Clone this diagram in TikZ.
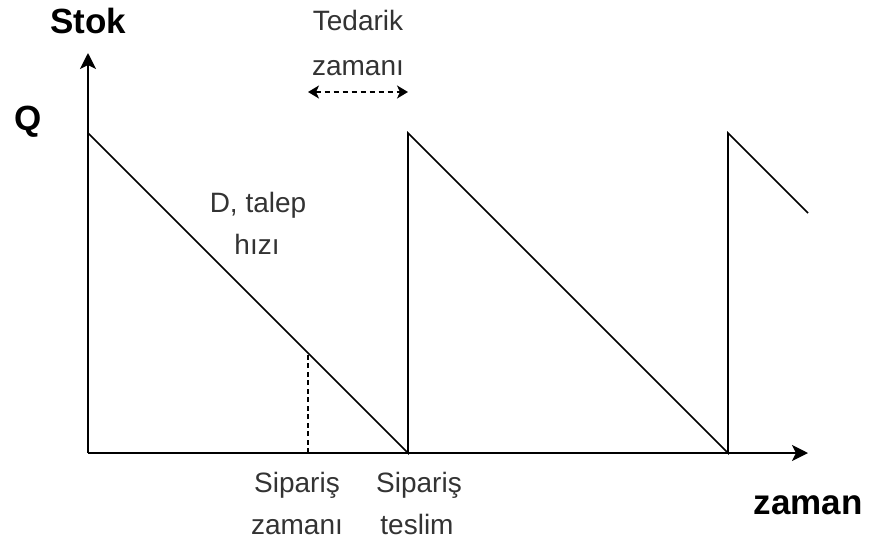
\documentclass[tikz,border=0pt]{standalone}
\usepackage{fontspec}
\setmainfont{Liberation Sans}
\usetikzlibrary{arrows.meta}
\definecolor{txt}{HTML}{333333}
\begin{document}
\begin{tikzpicture}[x=1pt,y=-1pt,line width=1.6pt,
  lbl/.style={anchor=base,font=\fontsize{28}{28}\selectfont,text=txt,inner sep=0pt},
  boldlbl/.style={anchor=base,font=\fontsize{35}{35}\selectfont\bfseries,inner sep=0pt},
  axisline/.style={-{Stealth[length=16pt,width=16pt,inset=4pt]}},
  leadarrow/.style={{Stealth[length=11pt,width=13pt,inset=3pt]}-{Stealth[length=11pt,width=13pt,inset=3pt]},dash pattern=on 5pt off 4pt},
  guide/.style={dash pattern=on 5pt off 3.5pt,line width=1.3pt}]
\useasboundingbox (0,0) rectangle (870,547);
\coordinate (O) at (88,453);
\coordinate (ytip) at (88,53);
\coordinate (xtip) at (808,453);
\coordinate (Q1) at (88,133);
\coordinate (Z1) at (408,453);
\coordinate (Q2) at (408,133);
\coordinate (Z2) at (728,453);
\coordinate (Q3) at (728,133);
\coordinate (E) at (808,213);
\coordinate (R) at (308,353);
\coordinate (Rb) at (308,453);
\coordinate (La) at (308,92);
\coordinate (Lb) at (408,92);
\draw[axisline] (O) -- (ytip);
\draw[axisline] (O) -- (xtip);
\draw[line join=miter] (Q1) -- (Z1) -- (Q2) -- (Z2) -- (Q3) -- (E);
\draw[guide] (Rb) -- (R);
\draw[leadarrow] (La) -- (Lb);
\node[boldlbl] (stok) at (88,33) {Stok};
\node[boldlbl] (q) at (28,130) {Q};
\node[boldlbl] (zaman) at (808,514) {zaman};
\node[lbl] (ted1) at (358,30) {Tedarik};
\node[lbl] (ted2) at (358,75) {zamanı};
\node[lbl] (d1) at (258,212) {D, talep};
\node[lbl] (d2) at (257,254) {hızı};
\node[lbl] (s1) at (297,492) {Sipariş};
\node[lbl] (s2) at (297,534) {zamanı};
\node[lbl] (t1) at (419,492) {Sipariş};
\node[lbl] (t2) at (417,534) {teslim};
\end{tikzpicture}
\end{document}
